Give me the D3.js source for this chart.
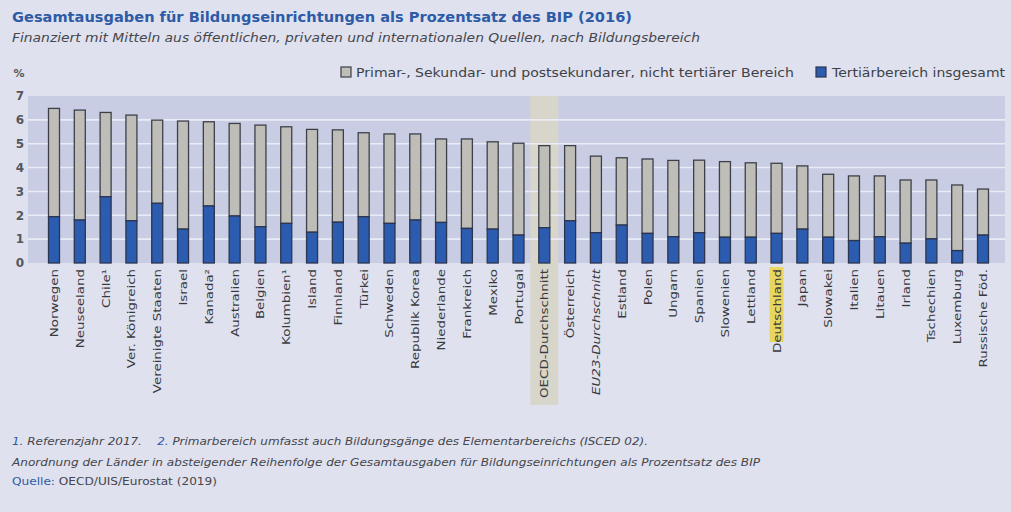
<!DOCTYPE html>
<html><head><meta charset="utf-8">
<script src="https://cdn.jsdelivr.net/npm/d3@7/dist/d3.min.js"></script>
<style>body{margin:0;background:#dfe1ef}svg{display:block}</style>
</head><body>
<svg id="c" width="1011" height="512"></svg>
<script>
const categories = ["Norwegen","Neuseeland","Chile¹","Ver. Königreich","Vereinigte Staaten","Israel","Kanada²","Australien","Belgien","Kolumbien¹","Island","Finnland","Türkei","Schweden","Republik Korea","Niederlande","Frankreich","Mexiko","Portugal","OECD-Durchschnitt","Österreich","EU23-Durchschnitt","Estland","Polen","Ungarn","Spanien","Slowenien","Lettland","Deutschland","Japan","Slowakei","Italien","Litauen","Irland","Tschechien","Luxemburg","Russische Föd."];
const totalValues = [6.48,6.41,6.31,6.20,5.99,5.95,5.92,5.85,5.78,5.71,5.60,5.58,5.46,5.41,5.41,5.20,5.20,5.08,5.02,4.92,4.92,4.48,4.41,4.36,4.30,4.31,4.25,4.20,4.18,4.07,3.72,3.65,3.65,3.48,3.48,3.27,3.10];
const tertiaryValues = [1.94,1.80,2.78,1.77,2.50,1.42,2.39,1.97,1.52,1.66,1.29,1.71,1.94,1.66,1.80,1.70,1.45,1.42,1.17,1.48,1.77,1.27,1.59,1.24,1.10,1.27,1.08,1.08,1.24,1.42,1.08,0.94,1.10,0.83,1.01,0.52,1.17];
const yTicks = [0,1,2,3,4,5,6,7];
const seriesLabels = ["Primar-, Sekundar- und postsekundarer, nicht tertiärer Bereich","Tertiärbereich insgesamt"];
const averageCategory = "OECD-Durchschnitt";
const euCategory = "EU23-Durchschnitt";
const focusCategory = "Deutschland";

const svg = d3.select("#c");
const W = 1011, H = 512;
svg.append("rect").attr("width",W).attr("height",H).attr("fill","#dfe1ef");

const y = d3.scaleLinear().domain([0,7]).range([263,96]);
const x = d3.scalePoint().domain(categories).range([54,983]);
const barW = 11;
const plotL = 28, plotR = 1005;

svg.append("rect").attr("x",plotL).attr("y",y(7)).attr("width",plotR-plotL).attr("height",y(0)-y(7)).attr("fill","#c9cde4");
svg.append("rect").attr("x",x(averageCategory)-14).attr("y",y(7)).attr("width",28).attr("height",405-y(7)).attr("fill","#d8d6cb");

svg.append("g").selectAll("line").data(yTicks.filter(d=>d>0&&d<7)).join("line")
  .attr("x1",plotL).attr("x2",plotR).attr("y1",d=>y(d)).attr("y2",d=>y(d))
  .attr("stroke","#e9ebf6").attr("stroke-width",1.6);

const F = "DejaVu Sans, sans-serif";
const yAxis = d3.axisLeft(y).tickValues(yTicks).tickFormat(d3.format("d")).tickSize(0).tickPadding(0);
const ya = svg.append("g").attr("transform","translate(20,0)").call(yAxis);
ya.select(".domain").remove();
ya.selectAll("text").attr("font-family",F).attr("font-size",12).attr("font-weight","bold").attr("fill","#55575e").attr("text-anchor","middle");
svg.append("text").attr("x",19).attr("y",77).attr("text-anchor","middle").attr("font-family",F).attr("font-size",11).attr("font-weight","bold").attr("fill","#55575e").text("%");

const g = svg.append("g");
g.selectAll("rect.o").data(categories).join("rect").attr("class","o")
  .attr("x",d=>x(d)-barW/2).attr("width",barW)
  .attr("y",(d,i)=>y(totalValues[i])).attr("height",(d,i)=>y(tertiaryValues[i])-y(totalValues[i]))
  .attr("fill","#bebdb8").attr("stroke","#3d4049").attr("stroke-width",1.3);
g.selectAll("rect.t").data(categories).join("rect").attr("class","t")
  .attr("x",d=>x(d)-barW/2).attr("width",barW)
  .attr("y",(d,i)=>y(tertiaryValues[i])).attr("height",(d,i)=>y(0)-y(tertiaryValues[i]))
  .attr("fill","#2b5cb0").attr("stroke","#2b3550").attr("stroke-width",1.3);

svg.append("rect").attr("x",x(focusCategory)-7).attr("y",267).attr("width",14).attr("height",75).attr("fill","#e8d661");

svg.append("g").selectAll("text").data(categories).join("text")
  .attr("transform",d=>`translate(${x(d)+4},269) rotate(-90) scale(1.22,1)`)
  .attr("text-anchor","end")
  .attr("font-family",F).attr("font-size",11)
  .attr("font-style",d=>d===euCategory?"italic":"normal")
  .attr("fill","#38393d").text(d=>d);

function fit(sel,len){sel.attr("textLength",len).attr("lengthAdjust","spacingAndGlyphs");}
svg.append("text").attr("x",12).attr("y",22).attr("font-family",F).attr("font-size",14).attr("font-weight","bold").attr("fill","#2e5ba6")
  .text("Gesamtausgaben für Bildungseinrichtungen als Prozentsatz des BIP (2016)").call(fit,620);
svg.append("text").attr("x",12).attr("y",42).attr("font-family",F).attr("font-size",12).attr("font-style","italic").attr("fill","#46474c")
  .text("Finanziert mit Mitteln aus öffentlichen, privaten und internationalen Quellen, nach Bildungsbereich").call(fit,688);

svg.append("rect").attr("x",341).attr("y",67).attr("width",10).attr("height",10).attr("fill","#bebdb8").attr("stroke","#3d4049").attr("stroke-width",1.2);
svg.append("text").attr("x",356).attr("y",77).attr("font-family",F).attr("font-size",12).attr("fill","#404146").text(seriesLabels[0]).call(fit,438);
svg.append("rect").attr("x",816).attr("y",67).attr("width",10).attr("height",10).attr("fill","#2b5cb0").attr("stroke","#2b3550").attr("stroke-width",1.2);
svg.append("text").attr("x",832).attr("y",77).attr("font-family",F).attr("font-size",12).attr("fill","#404146").text(seriesLabels[1]).call(fit,173);

const fn1 = svg.append("text").attr("x",12).attr("y",445).attr("font-family",F).attr("font-size",10).attr("font-style","italic").attr("fill","#45464b");
fn1.append("tspan").attr("fill","#2e5ba6").text("1.");
fn1.append("tspan").text(" Referenzjahr 2017.\u00a0\u00a0\u00a0\u00a0");
fn1.append("tspan").attr("fill","#2e5ba6").text("2.");
fn1.append("tspan").text(" Primarbereich umfasst auch Bildungsgänge des Elementarbereichs (ISCED 02).");
fn1.call(fit,636);
svg.append("text").attr("x",12).attr("y",466).attr("font-family",F).attr("font-size",10).attr("font-style","italic").attr("fill","#45464b")
  .text("Anordnung der Länder in absteigender Reihenfolge der Gesamtausgaben für Bildungseinrichtungen als Prozentsatz des BIP").call(fit,748);
const fn3 = svg.append("text").attr("x",12).attr("y",485).attr("font-family",F).attr("font-size",10).attr("fill","#45464b");
fn3.append("tspan").attr("fill","#2e5ba6").text("Quelle:");
fn3.append("tspan").text(" OECD/UIS/Eurostat (2019)");
fn3.call(fit,205);
</script>
</body></html>
